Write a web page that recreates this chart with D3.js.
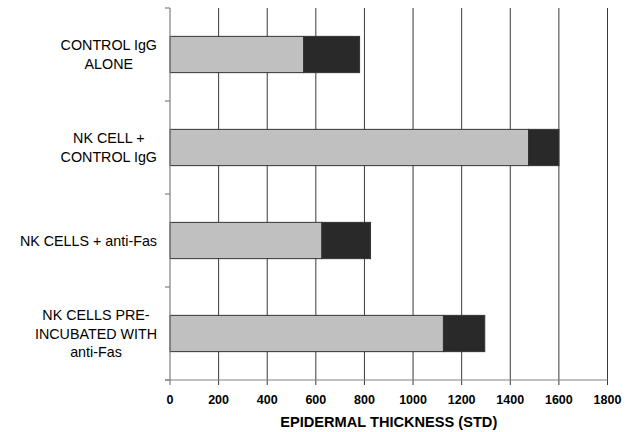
<!DOCTYPE html>
<html>
<head>
<meta charset="utf-8">
<script src="https://cdn.jsdelivr.net/npm/d3@7"></script>
<style>
    body { margin: 0; background: #fff; }
    text { font-family: "Liberation Sans", Arial, sans-serif; fill: #000; }
</style>
</head>
<body>
<svg id="chart"></svg>
<script>
const width = 632
const height = 432

// categories, top to bottom (each entry is the lines of the label)
const categories = [
    ["CONTROL IgG", "ALONE"],
    ["NK CELL +", "CONTROL IgG"],
    ["NK CELLS + anti-Fas"],
    ["NK CELLS PRE-", "INCUBATED WITH", "anti-Fas"]
]
// mean epidermal thickness and its std
const thickness = [550, 1475, 625, 1125]
const std_dev = [230, 125, 200, 170]
const x_ticks = [0, 200, 400, 600, 800, 1000, 1200, 1400, 1600, 1800]
const x_title = "EPIDERMAL THICKNESS (STD)"

const margin = {left: 170, right: 24.5, top: 8, bottom: 52}

let svg = d3.select("#chart")
    .attr("width", width)
    .attr("height", height)

let keys = categories.map(d => d.join(" "))

let x = d3.scaleLinear()
    .domain([0, 1800])
    .range([margin.left, width - margin.right])

let y = d3.scaleBand()
    .domain(keys)
    .range([margin.top, height - margin.bottom])
    .paddingInner(0.61)
    .paddingOuter(0.305)

let y_bottom = height - margin.bottom

// vertical grid
svg.append("g")
    .selectAll("line")
    .data(x_ticks.slice(1))
    .enter()
    .append("line")
    .attr("x1", d => x(d))
    .attr("x2", d => x(d))
    .attr("y1", margin.top)
    .attr("y2", y_bottom + 5)
    .attr("stroke", "#3a3a3a")
    .attr("stroke-width", 1)

// bars: mean then std on top
let rows = keys.map((k, i) => ({key: k, mean: thickness[i], sd: std_dev[i]}))

let bars = svg.append("g")
    .attr("stroke", "#333")
    .attr("stroke-width", 1)

bars.selectAll("rect.mean")
    .data(rows)
    .enter()
    .append("rect")
    .attr("class", "mean")
    .attr("x", x(0))
    .attr("y", d => y(d.key))
    .attr("width", d => x(d.mean) - x(0))
    .attr("height", y.bandwidth())
    .attr("fill", "#c0c0c0")

bars.selectAll("rect.sd")
    .data(rows)
    .enter()
    .append("rect")
    .attr("class", "sd")
    .attr("x", d => x(d.mean))
    .attr("y", d => y(d.key))
    .attr("width", d => x(d.mean + d.sd) - x(d.mean))
    .attr("height", y.bandwidth())
    .attr("fill", "#292929")

// axes
let axes = svg.append("g")
    .attr("stroke", "#808080")
    .attr("stroke-width", 1.2)

axes.append("line")
    .attr("x1", x(0)).attr("x2", x(0))
    .attr("y1", margin.top).attr("y2", y_bottom + 5)
axes.append("line")
    .attr("x1", x(0) - 5).attr("x2", x(1800))
    .attr("y1", y_bottom).attr("y2", y_bottom)

// category boundary ticks on y axis
let step = y.step()
let bounds = d3.range(keys.length + 1).map(i => margin.top + i * step)
axes.selectAll("line.ytick")
    .data(bounds)
    .enter()
    .append("line")
    .attr("class", "ytick")
    .attr("x1", x(0) - 5).attr("x2", x(0))
    .attr("y1", d => d).attr("y2", d => d)

// x tick labels
svg.append("g")
    .selectAll("text")
    .data(x_ticks)
    .enter()
    .append("text")
    .attr("x", d => x(d))
    .attr("y", 404)
    .attr("text-anchor", "middle")
    .attr("font-size", 12.5)
    .attr("font-weight", "bold")
    .text(d => d)

svg.append("text")
    .attr("x", (x(0) + x(1800)) / 2)
    .attr("y", 426.5)
    .attr("text-anchor", "middle")
    .attr("font-size", 14.6)
    .attr("font-weight", "bold")
    .text(x_title)

// category labels, lines centred, block right-aligned
let label_right = 157
let line_h = 18.5
categories.forEach((lines, i) => {
    let cy = y(keys[i]) + y.bandwidth() / 2
    let g = svg.append("g")
    let texts = g.selectAll("text")
        .data(lines)
        .enter()
        .append("text")
        .attr("font-size", 14.3)
        .attr("text-anchor", "middle")
        .attr("y", (d, j) => cy + (j - (lines.length - 1) / 2) * line_h + 5)
        .text(d => d)
    let maxw = 0
    texts.each(function() {
        let w = this.getComputedTextLength()
        if (w > maxw) maxw = w
    })
    texts.attr("x", label_right - maxw / 2)
})
</script>
</body>
</html>
